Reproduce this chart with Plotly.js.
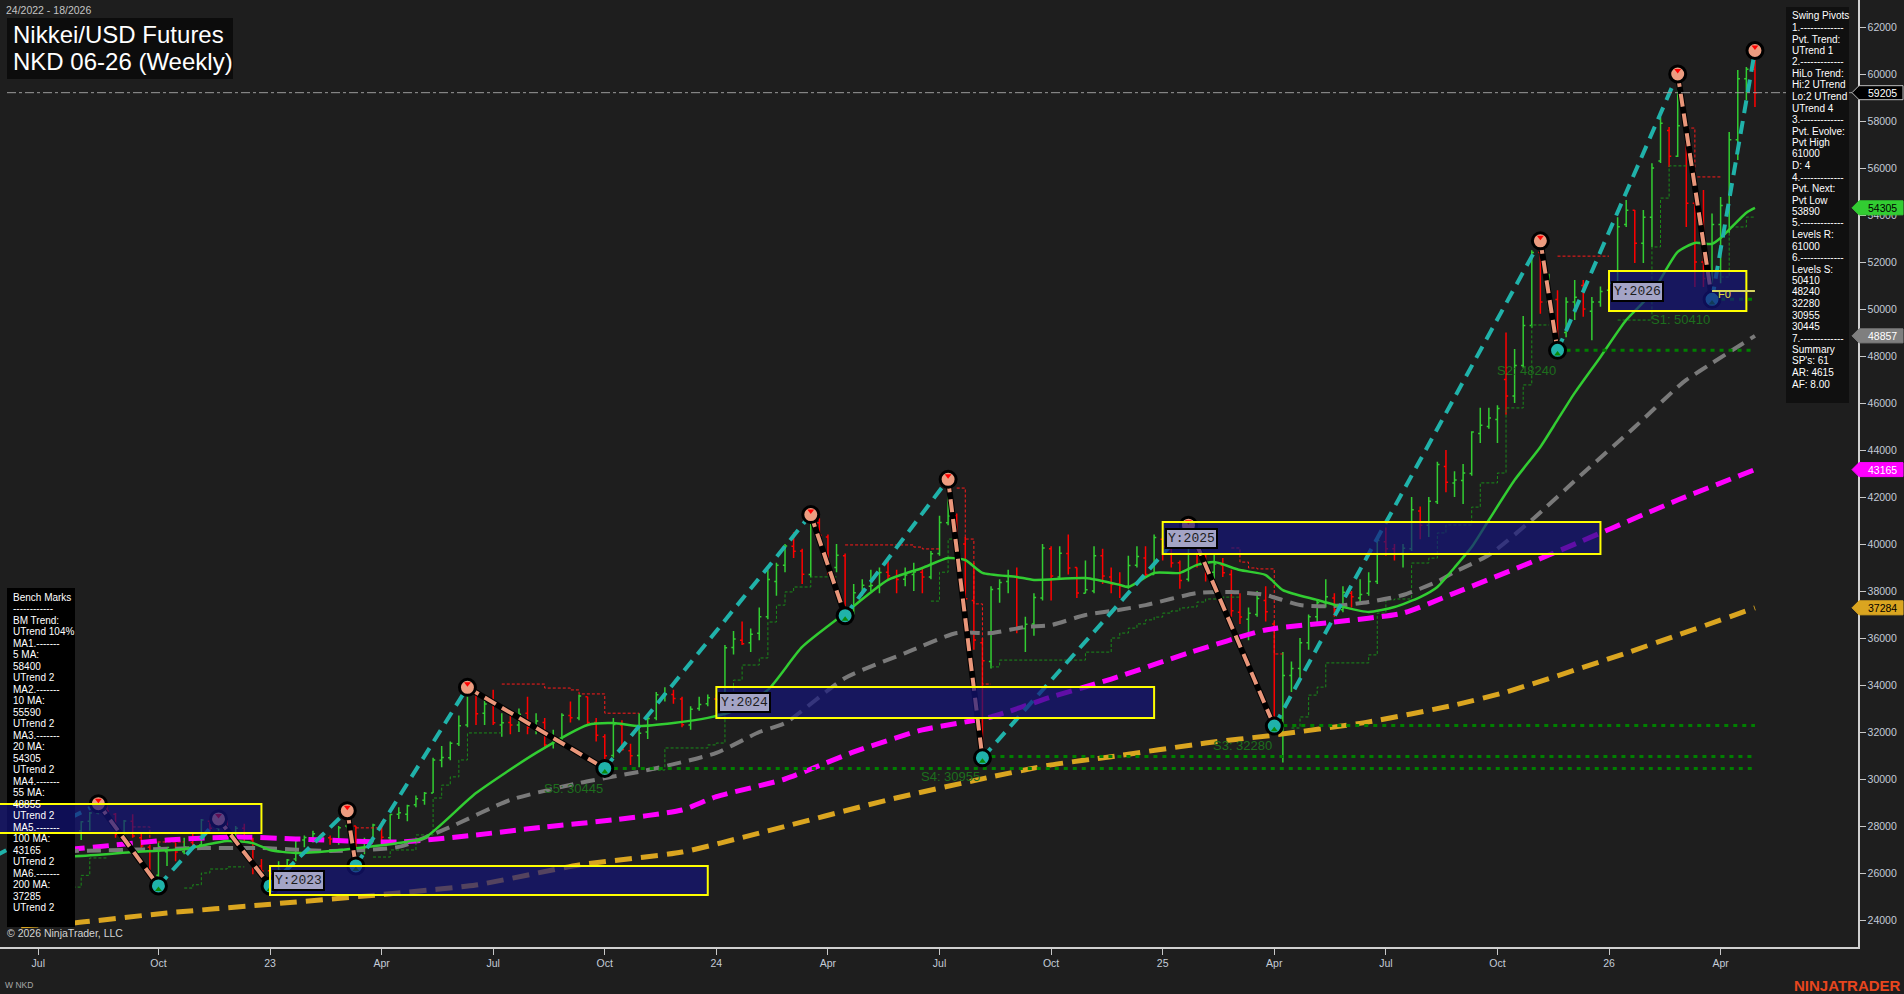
<!DOCTYPE html>
<html><head><meta charset="utf-8">
<script src="https://cdn.plot.ly/plotly-3.0.1.min.js"></script>
<style>html,body{margin:0;padding:0;background:#1e1e1e;overflow:hidden}#chart{width:1904px;height:994px}</style>
</head><body><div id="chart"></div>
<script>
// ---------------- DATA ----------------
const barStart = '2022-06-17'; // first weekly bar (Friday), week 24/2022
const openP = [
 28000,25900,26500,25900,26500,26800,27900,27800,28200,28550,28900,28500,27600,28200,27500,27100,25900,26900,27000,26900,27300,27200,28200,27900,28200,27700,27900,27400,26300,
 26100,26000,26100,26600,27400,27500,27600,27500,27400,28000,28000,27300,27400,28000,27500,28500,28500,28900,29100,29400,30800,30900,31500,32300,33700,32800,33200,32300,32400,32300,32800,32200,32400,31500,31700,32700,32600,33500,32400,31800,31000,32300,31200,31000,32000,32600,33600,33600,33400,32300,33000,33200,
 33400,33400,35600,35900,35800,36200,36900,38400,39100,39900,39700,38700,40900,40300,39000,39500,37100,37900,38200,38200,38800,38600,38500,38700,38800,38600,39600,40900,41200,40000,37600,35800,35000,38100,38400,38600,36400,36600,37700,39800,38600,39600,39000,37900,38000,39500,38600,38300,38200,39100,39400,38700,
 40200,39800,39200,38500,39900,39500,38800,39100,38700,37100,36800,37000,37600,36600,32600,34400,34700,35800,36900,37500,37700,37200,37900,37700,37900,38400,40100,39800,39600,39800,41400,40800,41800,43300,42600,42700,43000,44700,45000,45300,47000,46300,47600,49300,52400,50300,50400,49000,50300,51000,49900,50300,
 50800,51100,53600,54200,52800,53900,56300,57600,56500,57700,54500,52000,51300,53600,54400,57200,59800,60200];
const highP = [
 28100,26550,27060,26600,26900,27980,28000,28200,28600,28950,28950,28550,28250,28500,27700,27200,27300,27100,27300,27500,27700,28300,28350,28300,28250,28000,28100,27500,26600,
 26300,26500,26600,27450,27600,27800,27700,27600,28000,28650,28000,27500,28100,28200,28500,28800,28900,29300,29450,30900,31400,31600,32700,33900,33800,33500,33800,32800,32900,33000,33500,32800,32600,32100,32800,33300,33600,33500,32600,31900,32600,32500,31500,32800,32700,33700,33900,33800,33500,33100,33500,33600,
 33600,35700,36300,36700,36400,37300,38900,39200,40000,40500,39800,41250,41100,40400,40000,39600,38300,38500,38900,39000,39400,38900,39000,39200,39000,39700,41200,42750,41300,40300,39200,36000,38200,38500,38900,39000,36900,37900,40000,39900,39900,40400,39000,39300,39900,39800,39000,38800,39500,39900,39900,40400,
 40300,40300,39300,40800,40300,39600,39600,39400,38900,37900,37300,38000,38200,36700,35400,35000,36000,37000,37600,38500,37900,38200,38000,38500,38800,40200,40700,40000,40000,42000,41600,42000,43500,44000,43100,43400,44800,45800,45800,45900,49000,48300,49700,52500,52900,51500,50800,50500,51230,51230,50510,50960,
 51300,53900,54640,54210,54210,56200,58170,57740,60000,57880,55490,55060,54060,54770,57530,60170,60300,61000];
const lowP = [
 25650,25520,25850,25800,26200,26700,27450,27400,27800,28500,28400,27500,27400,27500,26900,25850,25450,26300,26500,26800,27000,27000,27800,27800,27600,27500,27300,25950,25850,
 25450,25900,25800,26500,27100,27300,27400,27200,27200,27900,26300,26800,27300,27300,27400,28300,28200,28800,28900,29400,30500,30800,31400,32200,32300,32300,32300,31800,31900,32000,31900,31900,31300,31300,31600,32400,32500,32300,31600,30450,30900,31200,30600,30500,31700,32500,33300,33200,32200,32100,32900,33100,
 32900,33400,35300,35700,35400,35900,36800,37800,38800,39400,38300,38600,40100,38700,38800,36950,37000,37800,38000,37900,38500,37900,38200,38000,37900,38500,39500,40800,39800,37500,35500,30900,34700,37500,37900,36200,35400,36100,37600,37600,38500,38700,37700,37900,37900,38300,37900,37700,38100,39000,38600,38700,
 39300,39000,38100,38400,39000,38400,38500,38600,36900,36600,35900,36900,36700,32250,30700,33700,34300,35500,36600,37300,36900,37100,37300,37500,37800,38300,39500,39300,39000,39700,40200,40300,41700,42200,42000,41700,42900,44300,44900,44300,45500,46000,47500,49200,49800,49900,48240,48800,49530,49670,48670,50100,
 50400,50900,53490,51960,51960,52640,56210,56040,56470,53490,50940,50940,50410,51100,53230,56340,58890,58600];
const closeP = [
 25960,26490,25940,26520,26790,27910,27800,28180,28550,28930,28640,27650,28210,27570,27150,25940,27120,27090,26890,27110,27200,28260,27900,28280,27780,27900,27530,26240,26090,
 25970,26120,26550,27380,27510,27670,27510,27450,27930,28140,27330,27390,28040,27520,28490,28560,28860,29160,29390,30810,30920,31520,32270,33710,32780,33190,32390,32390,32300,32760,32190,32470,31450,31620,32710,32610,33530,32400,31860,30990,32320,31260,30990,31950,32570,33590,33630,33430,32310,32970,33170,33460,
 33380,35580,35960,35750,36160,36900,38490,39100,39910,39690,38710,40890,40370,38990,39520,37070,37930,38240,38230,38790,38650,38490,38680,38810,38600,39580,40910,41190,40060,37670,35910,35030,38060,38360,38650,36390,36580,37720,39830,38640,39610,38980,37910,38050,39500,38640,38280,38210,39090,39470,38700,40280,
 39890,39190,38450,39930,39570,38790,39150,38780,37160,36890,37050,37680,37120,32600,34400,34700,35800,36900,37500,37750,37200,37950,37750,37850,38400,40150,39800,39570,39820,41460,40800,41820,43380,42630,42720,43020,44770,45050,45360,45770,46300,47600,49300,52400,50300,50400,48600,50300,50500,50000,50300,50750,
 51100,53500,54200,52800,53900,56000,57900,56500,57800,54500,52000,51300,53600,54400,57200,59800,60200,59205];

// moving averages (sample points)
const ma20Dates = ['2022-06-17','2022-07-29','2022-09-16','2022-10-28','2022-12-02','2022-12-23','2023-01-06','2023-01-27','2023-02-24','2023-04-21','2023-05-12','2023-06-23','2023-08-11','2023-09-22','2023-10-13','2023-11-03','2023-12-01','2023-12-29','2024-01-19','2024-02-16','2024-03-15','2024-04-19','2024-05-24','2024-06-21','2024-07-12','2024-07-26','2024-08-09','2024-09-06','2024-09-20','2024-11-01','2024-11-29','2024-12-06','2024-12-27','2025-01-17','2025-01-31','2025-02-14','2025-03-07','2025-03-28','2025-04-11','2025-05-09','2025-05-30','2025-06-20','2025-07-11','2025-08-01','2025-08-15','2025-08-29','2025-09-12','2025-09-26','2025-10-17','2025-11-07','2025-11-21','2025-12-05','2025-12-26','2026-01-16','2026-02-06','2026-02-27','2026-03-13','2026-03-27','2026-04-03','2026-04-24','2026-05-01'];
const ma20Vals = [27100,26720,26890,27020,27360,27270,26980,26850,26940,27280,27490,29400,31110,32300,32380,32250,32380,32600,32900,33790,35620,37060,38470,38980,39400,39320,38770,38600,38470,38550,38260,38170,38770,38770,39110,39230,38890,38680,38040,37620,37320,37110,37320,37740,38170,39000,39870,41020,42720,44130,45280,46430,47960,49530,50680,52430,52810,52770,53020,54100,54305];
const ma55Dates = ['2022-06-17','2022-07-29','2022-11-11','2022-12-30','2023-02-24','2023-04-21','2023-06-02','2023-07-21','2023-09-15','2023-11-10','2024-01-05','2024-02-09','2024-03-01','2024-04-19','2024-06-07','2024-07-19','2024-08-16','2024-09-13','2024-10-04','2024-11-01','2024-11-29','2024-12-20','2025-01-31','2025-02-28','2025-03-28','2025-04-25','2025-05-23','2025-06-20','2025-07-18','2025-08-15','2025-08-29','2025-09-26','2025-10-31','2025-12-12','2026-01-23','2026-02-27','2026-03-06','2026-03-27','2026-05-01'];
const ma55Vals = [27000,26940,27060,27060,26940,27110,27960,29110,29830,30380,31110,32000,32380,34300,35360,36210,36210,36470,36550,36980,37200,37400,37910,37960,37830,37400,37360,37530,37830,38400,38810,39530,41020,43020,44980,46680,46980,47700,48857];
const ma100Dates = ['2022-06-17','2022-07-29','2022-10-14','2022-12-09','2023-01-27','2023-04-21','2023-06-23','2023-08-18','2023-10-13','2023-12-08','2024-01-05','2024-03-01','2024-04-26','2024-06-21','2024-08-16','2024-10-04','2024-11-22','2025-01-24','2025-03-28','2025-05-23','2025-07-18','2025-08-29','2025-11-14','2026-02-27','2026-05-01'];
const ma100Vals = [26900,27020,27400,27530,27450,27320,27620,27960,28260,28680,29250,30000,31150,32090,32640,33490,34250,35360,36340,36680,37060,37910,39530,41870,43165];
const ma200Dates = ['2022-06-17','2022-07-29','2022-10-14','2022-12-30','2023-04-21','2023-06-23','2023-09-15','2023-12-08','2024-02-09','2024-05-24','2024-08-16','2024-10-04','2024-11-22','2025-02-07','2025-04-04','2025-06-20','2025-08-29','2025-10-10','2026-01-16','2026-05-01'];
const ma200Vals = [23750,23870,24300,24640,25150,25490,26340,26890,27700,29110,30090,30600,30950,31530,31870,32430,33150,33700,35360,37284];

// swing pivots
const pivotDates = ['2022-03-11','2022-08-19','2022-10-07','2022-11-25','2023-01-06','2023-03-10','2023-03-17','2023-06-16','2023-10-06','2024-03-22','2024-04-19','2024-07-12','2024-08-09','2025-01-24','2025-04-04','2025-11-07','2025-11-21','2026-02-27','2026-03-27','2026-05-01'];
const pivotVals = [24700,28950,25450,28300,25450,28650,26300,33900,30450,41250,36950,42750,30900,40800,32250,52900,48240,60000,50410,61000];
const pivotType = ['L','H','L','H','L','H','L','H','L','H','L','H','L','H','L','H','L','H','L','H'];

// support levels
const supportNames = ['S1','S2','S3','S4','S5'];
const supportVals = [50410,48240,32280,30955,30445];
const supportStart = ['2026-03-27','2025-11-21','2025-04-04','2024-08-09','2023-10-06'];
const supportEnd = '2026-05-01';

// yearly boxes
const yearLabels = ['', 'Y:2023','Y:2024','Y:2025','Y:2026'];
const yearBoxStart = ['2022-01-07','2023-01-06','2024-01-05','2025-01-03','2026-01-02'];
const yearBoxEnd = ['2022-12-30','2023-12-29','2024-12-27','2025-12-26','2026-04-24'];
const yearBoxLow = [27700,25060,32600,39570,49910];
const yearBoxHigh = [28940,26300,33915,40940,51620];

// trailing step lines
const greenStepDates = ['2022-07-29','2022-08-05','2022-08-12','2022-08-26',null,
 '2022-10-28','2022-11-04','2022-11-11','2022-11-18','2022-12-02','2022-12-16',null,
 '2023-03-31','2023-04-14','2023-05-05','2023-05-19','2023-05-26','2023-06-02','2023-06-09','2023-06-16','2023-07-14',null,
 '2023-11-10','2023-11-24','2023-12-29','2024-01-05','2024-01-12','2024-01-19','2024-01-26','2024-02-09','2024-02-16','2024-02-23','2024-03-01','2024-03-08','2024-03-22','2024-04-12',null,
 '2024-06-28','2024-07-05','2024-07-12','2024-07-19',null,
 '2024-08-16','2024-08-23','2024-10-25','2024-11-01','2024-11-22','2024-11-29','2024-12-06','2024-12-13','2024-12-20','2024-12-27','2025-01-03','2025-01-10','2025-01-17','2025-01-24','2025-01-31','2025-02-07','2025-02-21','2025-03-07',null,
 '2025-04-18','2025-04-25','2025-05-02','2025-05-09','2025-05-16','2025-06-20','2025-06-27','2025-07-04','2025-07-11','2025-07-25','2025-08-08','2025-08-15','2025-08-22','2025-09-12','2025-09-19','2025-10-03','2025-10-10','2025-10-24','2025-10-31','2025-11-14',null,
 '2026-01-09','2026-02-06','2026-02-13','2026-02-20','2026-03-06',null,
 '2026-04-03','2026-04-10','2026-04-24','2026-05-01'];
const greenStepVals = [25400,25900,26640,26640,null,
 25360,25500,26000,26170,26260,26260,null,
 26680,26980,27620,29190,29740,30090,30810,31960,31960,null,
 30380,31320,31450,31530,33660,34210,34850,35150,36680,37400,37960,38170,38600,38600,null,
 37570,38800,40210,40210,null,
 34770,35060,35060,35400,36000,36210,36420,36600,36770,36890,37060,37150,37280,37320,37530,37660,37740,37740,null,
 32170,32640,33570,33910,34940,35280,37060,37620,37660,39190,39400,40470,40810,41570,42600,43020,45790,46770,49320,49320,null,
 49530,52640,54720,56090,56090,null,
 51360,53490,53910,53910];
const redStepDates = ['2022-09-16','2022-09-30','2022-10-28',null,
 '2023-03-17','2023-04-07',null,
 '2023-07-14','2023-08-18','2023-09-08','2023-09-15','2023-10-06','2023-11-03',null,
 '2024-04-19','2024-06-14','2024-06-21','2024-07-05',null,
 '2024-07-19','2024-07-26','2024-08-02','2024-08-09','2024-08-16',null,
 '2025-02-28','2025-03-07','2025-03-14','2025-03-21','2025-04-04','2025-04-11',null,
 '2025-11-21','2026-01-02',null,
 '2026-03-06','2026-03-13','2026-04-03'];
const redStepVals = [27960,27320,27320,null,
 27920,27920,null,
 34040,33870,33790,33620,32800,32800,null,
 39960,39870,39790,39790,null,
 42380,40210,37450,34040,34040,null,
 39830,39230,38980,38940,35320,35320,null,
 52250,52250,null,
 57700,55620,55620];

// right axis price tags
const tagValues = [59205,54305,48857,43165,37284];
const tagFill = ['#000000','#32cd32','#7f7f7f','#ff00ff','#daa520'];
const tagTextColor = ['#ffffff','#000000','#ffffff','#ffffff','#000000'];
const lastPrice = 59205;

// x axis ticks (first weekly bar of each quarter)
const xTickVals = ['2022-07-01','2022-10-07','2023-01-06','2023-04-07','2023-07-07','2023-10-06','2024-01-05','2024-04-05','2024-07-05','2024-10-04','2025-01-03','2025-04-04','2025-07-04','2025-10-03','2026-01-02','2026-04-03'];
const xTickText = ['Jul','Oct','23','Apr','Jul','Oct','24','Apr','Jul','Oct','25','Apr','Jul','Oct','26','Apr'];

// text panels
const benchLines = ['Bench Marks','------------','BM Trend:','UTrend 104%','MA1.-------','5 MA:','58400','UTrend 2','MA2.-------','10 MA:','55590','UTrend 2','MA3.-------','20 MA:','54305','UTrend 2','MA4.-------','55 MA:','48855','UTrend 2','MA5.-------','100 MA:','43165','UTrend 2','MA6.-------','200 MA:','37285','UTrend 2'];
const swingLines = ['Swing Pivots','1.-------------','Pvt. Trend:','UTrend 1','2.-------------','HiLo Trend:','Hi:2 UTrend','Lo:2 UTrend','UTrend 4','3.-------------','Pvt. Evolve:','Pvt High','61000','D: 4','4.-------------','Pvt. Next:','Pvt Low','53890','5.-------------','Levels R:','61000','6.-------------','Levels S:','50410','48240','32280','30955','30445','7.-------------','Summary',"SP's: 61",'AR: 4615','AF: 8.00'];

// ---------------- BUILD ----------------
function weekDates(start, n){const out=[];const d0=new Date(start+'T00:00:00Z');for(let i=0;i<n;i++){out.push(new Date(d0.getTime()+i*7*86400000).toISOString().slice(0,10));}return out;}
const barDates = weekDates(barStart, closeP.length);

const PR = 1858, PB = 947;
const yMin = 22851, yMax = 63149;
const px = x => x / PR;
const py = y => (PB - y) / PB;
const vToPaper = v => (v - yMin) / (yMax - yMin);
const FONT = 'Arial, "Liberation Sans", sans-serif';

const traces = [];
traces.push({type:'scatter',mode:'lines',x:greenStepDates,y:greenStepVals,line:{color:'#1a8c1a',width:1,dash:'3px,2px',shape:'hv'},connectgaps:false,hoverinfo:'skip',showlegend:false});
traces.push({type:'scatter',mode:'lines',x:redStepDates,y:redStepVals,line:{color:'#ff1a1a',width:1,dash:'3px,2px',shape:'hv'},connectgaps:false,hoverinfo:'skip',showlegend:false});
traces.push({type:'ohlc',x:barDates,open:openP,high:highP,low:lowP,close:closeP,
  increasing:{line:{color:'#32cd32',width:1.5}},decreasing:{line:{color:'#ff0000',width:1.5}},
  tickwidth:0.25,hoverinfo:'skip',showlegend:false});
traces.push({type:'scatter',mode:'lines',x:ma200Dates,y:ma200Vals,line:{color:'#daa520',width:5,dash:'17px,9px',shape:'spline',smoothing:0.6},hoverinfo:'skip',showlegend:false});
traces.push({type:'scatter',mode:'lines',x:ma100Dates,y:ma100Vals,line:{color:'#ff00ff',width:5,dash:'16px,8px',shape:'spline',smoothing:0.6},hoverinfo:'skip',showlegend:false});
traces.push({type:'scatter',mode:'lines',x:ma55Dates,y:ma55Vals,line:{color:'#7a7a7a',width:4,dash:'14px,8px',shape:'spline',smoothing:0.6},hoverinfo:'skip',showlegend:false});
traces.push({type:'scatter',mode:'lines',x:ma20Dates,y:ma20Vals,line:{color:'#32cd32',width:2.5,shape:'spline',smoothing:0.6},hoverinfo:'skip',showlegend:false});

// support dotted lines
supportVals.forEach((v,i)=>{
  traces.push({type:'scatter',mode:'lines',x:[supportStart[i],supportEnd],y:[v,v],line:{color:'#008000',width:3,dash:'4px,5px'},hoverinfo:'skip',showlegend:false});
});

// swing legs
const upX=[],upY=[],dnX=[],dnY=[];
for(let i=0;i<pivotDates.length-1;i++){
  if(pivotType[i]==='L'){upX.push(pivotDates[i],pivotDates[i+1],null);upY.push(pivotVals[i],pivotVals[i+1],null);}
  else{dnX.push(pivotDates[i],pivotDates[i+1],null);dnY.push(pivotVals[i],pivotVals[i+1],null);}
}
traces.push({type:'scatter',mode:'lines',x:dnX,y:dnY,line:{color:'#000000',width:6},connectgaps:false,hoverinfo:'skip',showlegend:false});
traces.push({type:'scatter',mode:'lines',x:dnX,y:dnY,line:{color:'#e9967a',width:4,dash:'13px,7px'},connectgaps:false,hoverinfo:'skip',showlegend:false});
traces.push({type:'scatter',mode:'lines',x:upX,y:upY,line:{color:'#20b2aa',width:4,dash:'13px,8px'},connectgaps:false,hoverinfo:'skip',showlegend:false});

const hiX=[],hiY=[],loX=[],loY=[];
for(let i=1;i<pivotDates.length;i++){
  if(pivotType[i]==='H'){hiX.push(pivotDates[i]);hiY.push(pivotVals[i]);}
  else{loX.push(pivotDates[i]);loY.push(pivotVals[i]);}
}
traces.push({type:'scatter',mode:'markers',x:hiX,y:hiY,marker:{symbol:'circle',size:16,color:'#ec9c80',line:{color:'#000000',width:3}},hoverinfo:'skip',showlegend:false});
traces.push({type:'scatter',mode:'markers',x:hiX,y:hiY.map(v=>v+150),marker:{symbol:'triangle-down',size:6,color:'#ff0000'},hoverinfo:'skip',showlegend:false});
traces.push({type:'scatter',mode:'markers',x:loX,y:loY,marker:{symbol:'circle',size:16,color:'#20b2aa',line:{color:'#000000',width:3}},hoverinfo:'skip',showlegend:false});
traces.push({type:'scatter',mode:'markers',x:loX,y:loY.map(v=>v-150),marker:{symbol:'triangle-up',size:6,color:'#0a8a0a'},hoverinfo:'skip',showlegend:false});

// ---------------- SHAPES / ANNOTATIONS ----------------
const shapes = [];
const ann = [];
// last price dash-dot line
shapes.push({type:'line',xref:'paper',yref:'y',x0:px(7),x1:1,y0:lastPrice,y1:lastPrice,line:{color:'#9a9a9a',width:1,dash:'dashdot'},layer:'above'});
// bench marks panel
shapes.push({type:'rect',xref:'paper',yref:'paper',x0:px(7),x1:px(75),y0:py(927),y1:py(588),fillcolor:'#000000',line:{width:0},layer:'above'});
// year boxes
yearBoxStart.forEach((d,i)=>{
  shapes.push({type:'rect',xref:'x',yref:'y',x0:d,x1:yearBoxEnd[i],y0:yearBoxLow[i],y1:yearBoxHigh[i],fillcolor:'rgba(20,20,125,0.68)',line:{color:'#ffff00',width:2},layer:'above'});
  if(yearLabels[i]){
    ann.push({xref:'x',yref:'y',x:d,y:(yearBoxLow[i]+yearBoxHigh[i])/2,xanchor:'left',yanchor:'middle',xshift:2,text:yearLabels[i],showarrow:false,
      font:{family:'"Liberation Mono","DejaVu Sans Mono",monospace',size:13,color:'#1c1c1c'},bgcolor:'#a4a4c6',bordercolor:'#000000',borderwidth:2,borderpad:1});
  }
});
// F0 marker near the last pivot low
shapes.push({type:'line',xref:'x',yref:'y',x0:'2026-03-27',x1:'2026-05-01',y0:50770,y1:50770,line:{color:'#d8d860',width:2},layer:'above'});
ann.push({xref:'x',yref:'y',x:'2026-03-30',y:50640,xanchor:'left',yanchor:'middle',text:'F0',showarrow:false,font:{family:FONT,size:11,color:'#e0e040'}});
// support labels
supportVals.forEach((v,i)=>{
  ann.push({xref:'x',yref:'y',x:supportStart[i],y:v,xanchor:'right',yanchor:'middle',yshift:-20,text:supportNames[i]+': '+v,showarrow:false,font:{family:FONT,size:13,color:'#1d6e1d'}});
});
// title
shapes.push({type:'rect',xref:'paper',yref:'paper',x0:px(7),x1:px(233),y0:py(79),y1:py(18),fillcolor:'#0c0c0c',line:{width:0},layer:'above'});
ann.push({xref:'paper',yref:'paper',x:px(11),y:py(35),xanchor:'left',yanchor:'middle',text:'Nikkei/USD Futures',showarrow:false,font:{family:FONT,size:24,color:'#ffffff'}});
ann.push({xref:'paper',yref:'paper',x:px(11),y:py(62),xanchor:'left',yanchor:'middle',text:'NKD 06-26 (Weekly)',showarrow:false,font:{family:FONT,size:24,color:'#ffffff'}});
ann.push({xref:'paper',yref:'paper',x:px(4),y:py(10),xanchor:'left',yanchor:'middle',text:'24/2022 - 18/2026',showarrow:false,font:{family:FONT,size:10.5,color:'#c4c4c4'}});
// swing pivot panel
shapes.push({type:'rect',xref:'paper',yref:'paper',x0:px(1786),x1:px(1849),y0:py(403),y1:py(7),fillcolor:'#101010',line:{width:0},layer:'above'});
swingLines.forEach((t,i)=>{
  ann.push({xref:'paper',yref:'paper',x:px(1790),y:py(16+i*11.5),xanchor:'left',yanchor:'middle',text:t,showarrow:false,font:{family:FONT,size:10,color:'#ffffff'}});
});
benchLines.forEach((t,i)=>{
  ann.push({xref:'paper',yref:'paper',x:px(11),y:py(597+i*11.5),xanchor:'left',yanchor:'middle',text:t,showarrow:false,font:{family:FONT,size:10,color:'#ffffff'}});
});
// price tags
const half = 7/947*(yMax-yMin);
tagValues.forEach((v,i)=>{
  const yc = vToPaper(v), hh = 7/947;
  shapes.push({type:'path',xref:'paper',yref:'paper',
    path:`M ${px(1852)},${yc} L ${px(1859)},${yc+hh} L ${px(1903)},${yc+hh} L ${px(1903)},${yc-hh} L ${px(1859)},${yc-hh} Z`,
    fillcolor:tagFill[i],line:{color:i===0?'#bdbdbd':tagFill[i],width:1},layer:'above'});
  ann.push({xref:'paper',yref:'paper',x:px(1882),y:yc,xanchor:'center',yanchor:'middle',text:String(v),showarrow:false,font:{family:FONT,size:10.5,color:tagTextColor[i]}});
});
// footer texts
ann.push({xref:'paper',yref:'paper',x:px(5),y:py(933),xanchor:'left',yanchor:'middle',text:'\u00a9 2026 NinjaTrader, LLC',showarrow:false,font:{family:FONT,size:10.5,color:'#d4d4d4'}});
ann.push({xref:'paper',yref:'paper',x:px(3),y:py(985),xanchor:'left',yanchor:'middle',text:'W NKD',showarrow:false,font:{family:FONT,size:8.5,color:'#a8a8a8'}});
ann.push({xref:'paper',yref:'paper',x:px(1903),y:py(985),xanchor:'right',yanchor:'middle',text:'<b>NINJATRADER</b>',showarrow:false,font:{family:FONT,size:15,color:'#e8461e'}});

const layout = {
  width:1904,height:994,
  paper_bgcolor:'#1e1e1e',plot_bgcolor:'#1e1e1e',
  margin:{l:0,r:1904-PR,t:0,b:994-PB},
  font:{family:FONT,color:'#c4ccd8'},
  showlegend:false,
  dragmode:false,
  xaxis:{type:'date',range:['2022-05-30 19:00','2026-07-24 01:00'],tickmode:'array',tickvals:xTickVals,ticktext:xTickText,
    ticks:'outside',ticklen:6,tickcolor:'#c8c8c8',showgrid:false,zeroline:false,showline:true,linecolor:'#d0d0d0',linewidth:1.5,
    tickfont:{family:FONT,size:10.5,color:'#c4ccd8'},rangeslider:{visible:false},fixedrange:true},
  yaxis:{range:[yMin,yMax],side:'right',tickmode:'linear',tick0:0,dtick:2000,tickformat:'d',
    ticks:'outside',ticklen:6,tickcolor:'#c8c8c8',showgrid:false,zeroline:false,showline:true,linecolor:'#d0d0d0',linewidth:1.5,
    tickfont:{family:FONT,size:10.5,color:'#c4ccd8'},fixedrange:true},
  shapes:shapes,
  annotations:ann
};
Plotly.newPlot('chart',traces,layout,{displayModeBar:false,staticPlot:true});
</script>
</body></html>
